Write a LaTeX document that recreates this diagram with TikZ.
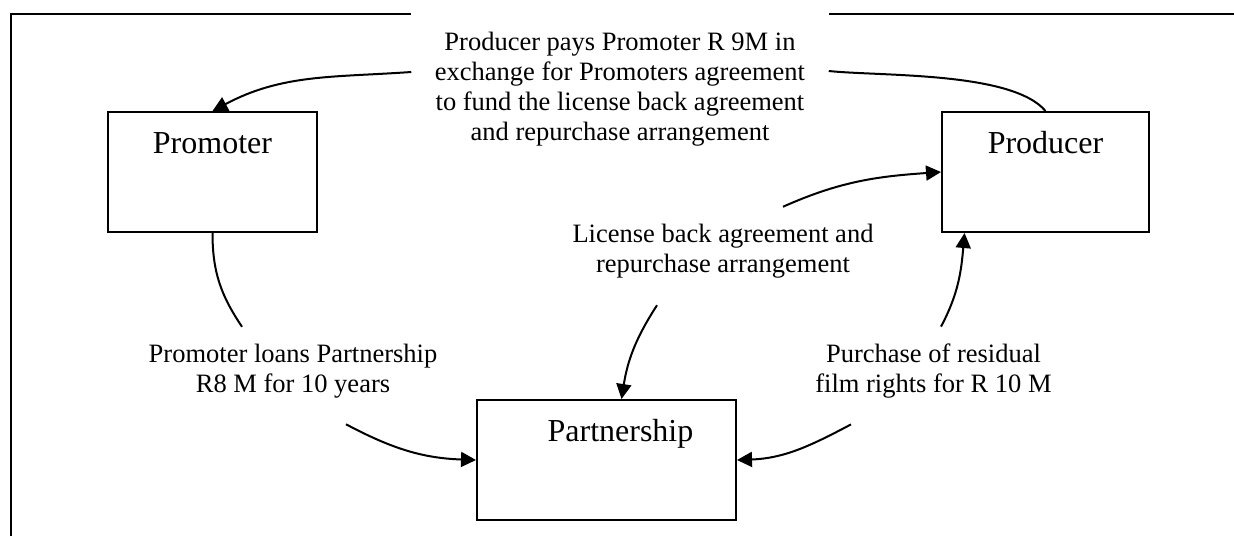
\documentclass[tikz,border=0pt]{standalone}
\usepackage{fontspec}
\setmainfont{Liberation Serif}
\usetikzlibrary{arrows.meta}

\begin{document}
\begin{tikzpicture}[x=1pt, y=-1pt, >={Triangle[length=15pt, width=15pt]}]
        \useasboundingbox (0, 0) rectangle (1234, 536);
        \draw[line width=2pt] (11, 536) |- (1234, 14);

        \begin{scope}[
            party/.style={draw=black, line width=2pt, rectangle, inner sep=0pt,
                minimum height=120pt, text height=41pt, text depth=79pt,
                font=\fontsize{32}{38}\selectfont},
            deal/.style={align=center, inner xsep=22pt, inner ysep=17pt,
                font=\fontsize{26.5}{30}\selectfont}]
            \node[party, minimum width=209pt] (prom) at (212.5, 172) {Promoter};
            \node[party, minimum width=207pt] (prod) at (1045.5, 172) {Producer};
            \node[party, minimum width=259pt] (part) at (606.5, 460) {\hspace*{28pt}Partnership};
            \node[deal, fill=white, inner xsep=23.5pt, inner ysep=20pt] (pays) at (620, 89)
                {Producer pays Promoter R 9M in\\ exchange for Promoters agreement\\
                 to fund the license back agreement\\ and repurchase arrangement};
            \node[deal] (lic) at (723, 251) {License back agreement and\\ repurchase arrangement};
            \node[deal] (loan) at (293, 371) {Promoter loans Partnership\\ R8 M for 10 years};
            \node[deal] (buy) at (933.5, 371) {Purchase of residual\\ film rights for R 10 M};
        \end{scope}

        \begin{scope}[
            every edge/.style={draw=black, line width=2pt}]
            \path [->] ([yshift=17pt]pays.west) edge[out=184, in=28] (prom.north);
            \path [-] ([yshift=18pt]pays.east) edge[out=-6, in=130, looseness=0.6] (prod.north);
            \path [-] (prom.south) edge[out=270, in=124] ([xshift=-51pt]loan.north);
            \path [->] ([xshift=53pt, yshift=-9pt]loan.south) edge[out=-28, in=178] (part.west);
            \path [->] ([xshift=-82.5pt, yshift=-9pt]buy.south) edge[out=208, in=2] (part.east);
            \path [->] ([xshift=7.5pt]buy.north) edge[out=62, in=265] (prod.217);
            \path [->] ([xshift=60pt]lic.north) edge[out=24, in=184] (prod.west);
            \path [->] ([xshift=-66pt, yshift=-10pt]lic.south) edge[out=237, in=81] ([xshift=15pt]part.north);
        \end{scope}
\end{tikzpicture}
\end{document}
